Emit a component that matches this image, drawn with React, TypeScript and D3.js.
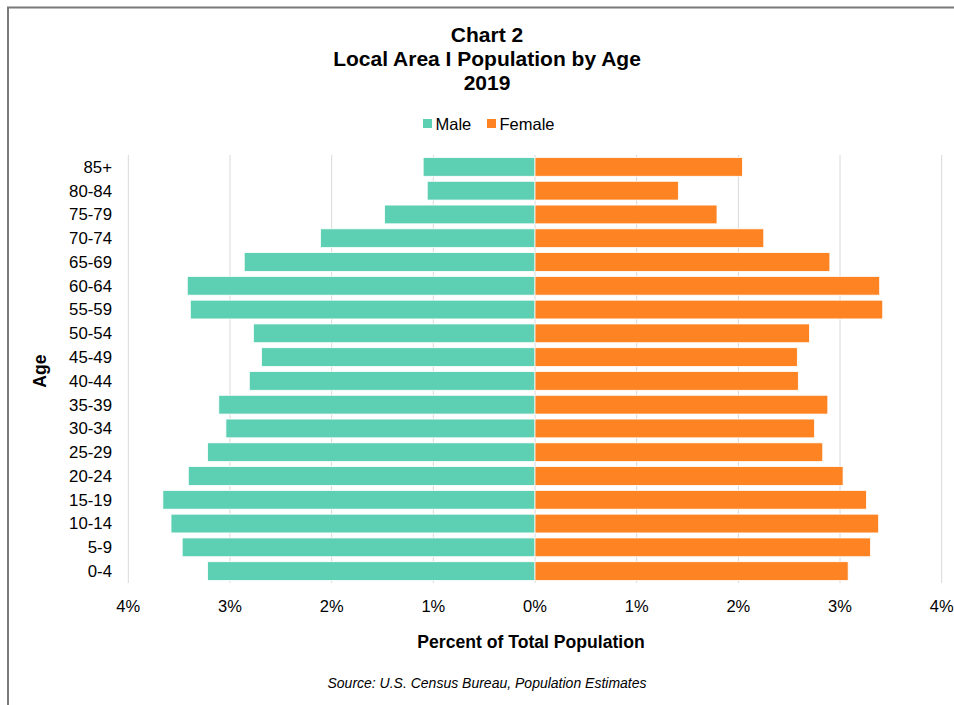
import React from "react";
import * as d3 from "d3";

// Age groups, top to bottom
const ageGroups = [
  "85+", "80-84", "75-79", "70-74", "65-69", "60-64", "55-59", "50-54", "45-49",
  "40-44", "35-39", "30-34", "25-29", "20-24", "15-19", "10-14", "5-9", "0-4",
];

// Percent of total population
const maleValues = [
  1.10, 1.06, 1.48, 2.11, 2.86, 3.42, 3.39, 2.77, 2.69,
  2.81, 3.11, 3.04, 3.22, 3.41, 3.66, 3.58, 3.47, 3.22,
];
const femaleValues = [
  2.04, 1.41, 1.79, 2.25, 2.90, 3.39, 3.42, 2.70, 2.58,
  2.59, 2.88, 2.75, 2.83, 3.03, 3.26, 3.38, 3.30, 3.08,
];

const tickValues = [-4, -3, -2, -1, 0, 1, 2, 3, 4];

const titleLines = ["Chart 2", "Local Area I Population by Age", "2019"];
const xAxisTitle = "Percent of Total Population";
const yAxisTitle = "Age";
const sourceNote = "Source: U.S. Census Bureau, Population Estimates";

const MALE = "#5dcfb2";
const FEMALE = "#fe8322";
const FONT = "'Liberation Sans', Arial, Helvetica, sans-serif";

export default function App() {
  const width = 954;
  const height = 705;
  const left = 128.3;
  const right = 941.7;
  const top = 155;
  const bottom = 583;

  const x = d3.scaleLinear().domain([-4, 4]).range([left, right]);
  const y = d3
    .scaleBand<string>()
    .domain(ageGroups)
    .range([top, bottom])
    .paddingInner(0.21)
    .paddingOuter(0.105);

  const rows = ageGroups.map((g, i) => ({ g, m: maleValues[i], f: femaleValues[i] }));

  return (
    <svg
      width={width}
      height={height}
      style={{ position: "absolute", left: 0, top: 0, background: "#fff" }}
      fontFamily={FONT}
    >
      {/* frame */}
      <path d={`M8,${height + 5} V7.5 H${width + 5}`} fill="none" stroke="#7a7a7a" strokeWidth={2} />

      {/* titles */}
      {titleLines.map((t, i) => (
        <text
          key={t}
          x={487}
          y={42 + i * 24}
          textAnchor="middle"
          fontSize={21}
          fontWeight="bold"
          fill="#000"
        >
          {t}
        </text>
      ))}

      {/* legend */}
      <rect x={423} y={119} width={9} height={9} fill={MALE} />
      <text x={435.5} y={129.5} fontSize={16.5} fill="#000">Male</text>
      <rect x={487} y={119} width={9} height={9} fill={FEMALE} />
      <text x={499.5} y={129.5} fontSize={16.5} fill="#000">Female</text>

      {/* gridlines */}
      {tickValues.map((t) => (
        <line
          key={t}
          x1={x(t)}
          x2={x(t)}
          y1={top}
          y2={bottom}
          stroke="#d9d9d9"
          strokeWidth={1}
        />
      ))}

      {/* bars */}
      {rows.map((r) => (
        <g key={r.g}>
          <rect
            x={x(-r.m)}
            y={y(r.g)}
            width={x(0) - x(-r.m)}
            height={y.bandwidth()}
            fill={MALE}
            stroke="#fff"
            strokeWidth={0.8}
          />
          <rect
            x={x(0)}
            y={y(r.g)}
            width={x(r.f) - x(0)}
            height={y.bandwidth()}
            fill={FEMALE}
            stroke="#fff"
            strokeWidth={0.8}
          />
        </g>
      ))}

      {/* category labels */}
      {ageGroups.map((g) => (
        <text
          key={g}
          x={112}
          y={(y(g) ?? 0) + y.bandwidth() / 2}
          dy="0.35em"
          textAnchor="end"
          fontSize={16.8}
          fill="#000"
        >
          {g}
        </text>
      ))}

      {/* x tick labels */}
      {tickValues.map((t) => (
        <text key={t} x={x(t)} y={612} textAnchor="middle" fontSize={16.5} fill="#000">
          {`${Math.abs(t)}%`}
        </text>
      ))}

      {/* axis titles */}
      <text x={531} y={648} textAnchor="middle" fontSize={17.6} fontWeight="bold" fill="#000">
        {xAxisTitle}
      </text>
      <text
        transform={`translate(46,${(top + bottom) / 2 + 2}) rotate(-90)`}
        textAnchor="middle"
        fontSize={17.6}
        fontWeight="bold"
        fill="#000"
      >
        {yAxisTitle}
      </text>

      {/* source */}
      <text x={487} y={688} textAnchor="middle" fontSize={14} fontStyle="italic" fill="#000">
        {sourceNote}
      </text>
    </svg>
  );
}
